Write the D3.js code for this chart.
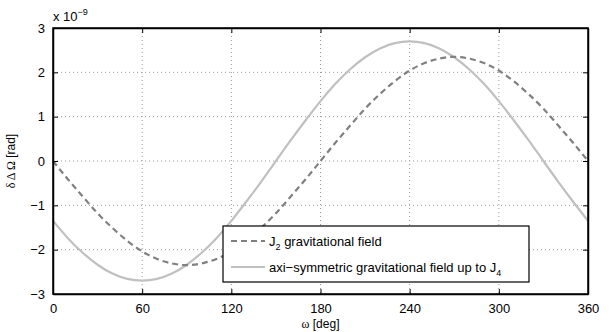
<!DOCTYPE html>
<meta charset="utf-8">
<script src="https://d3js.org/d3.v7.min.js"></script>
<style>
  body { margin: 0; background: #fff; }
  text { font-family: "Liberation Sans", Arial, sans-serif; fill: #000; }
</style>
<svg id="chart" width="613" height="332"></svg>
<script>

// data (values in units of 1e-9 rad)
var omega = [0,10,20,30,40,50,60,70,80,90,100,110,120,130,140,150,160,170,180,
             190,200,210,220,230,240,250,260,270,280,290,300,310,320,330,340,350,360];
var j2 = [0,-0.41,-0.80,-1.18,-1.51,-1.80,-2.04,-2.21,-2.31,-2.35,-2.31,-2.21,-2.04,-1.80,-1.51,-1.18,-0.80,-0.41,0,
          0.41,0.80,1.18,1.51,1.80,2.04,2.21,2.31,2.35,2.31,2.21,2.04,1.80,1.51,1.18,0.80,0.41,0];
var j4 = [-1.35,-1.74,-2.07,-2.34,-2.54,-2.66,-2.70,-2.66,-2.54,-2.34,-2.07,-1.74,-1.35,-0.92,-0.47,0,0.47,0.92,1.35,
          1.74,2.07,2.34,2.54,2.66,2.70,2.66,2.54,2.34,2.07,1.74,1.35,0.92,0.47,0,-0.47,-0.92,-1.35];
var xTicks = [0,60,120,180,240,300,360];
var yTicks = [-3,-2,-1,0,1,2,3];

var svg = d3.select("#chart");
var margin = {left: 53, right: 25, top: 28, bottom: 38};
var width = 613 - margin.left - margin.right,
    height = 332 - margin.top - margin.bottom;

var x = d3.scaleLinear().domain([0, 360]).range([0, width]);
var y = d3.scaleLinear().domain([-3, 3]).range([height, 0]);

var g = svg.append("g").attr("transform", "translate(" + margin.left + "," + margin.top + ")");

// grid
g.append("g").selectAll("line").data(xTicks.slice(1, -1)).enter().append("line")
  .attr("x1", d => x(d)).attr("x2", d => x(d)).attr("y1", 0).attr("y2", height)
  .attr("stroke", "#999").attr("stroke-width", 1).attr("stroke-dasharray", "1,3");
g.append("g").selectAll("line").data(yTicks.slice(1, -1)).enter().append("line")
  .attr("x1", 0).attr("x2", width).attr("y1", d => y(d)).attr("y2", d => y(d))
  .attr("stroke", "#999").attr("stroke-width", 1).attr("stroke-dasharray", "1,3");

// curves
var line = d3.line().x((d, i) => x(omega[i])).y(d => y(d)).curve(d3.curveNatural);

g.append("path").datum(j4)
  .attr("fill", "none").attr("stroke", "#c0c0c0").attr("stroke-width", 2.2)
  .attr("d", line);
g.append("path").datum(j2)
  .attr("fill", "none").attr("stroke", "#808080").attr("stroke-width", 2.2)
  .attr("stroke-dasharray", "6,4")
  .attr("d", line);

// axes (inner ticks, box)
var xAxis = d3.axisBottom(x).tickValues(xTicks).tickSizeInner(-5).tickSizeOuter(0).tickPadding(10);
var yAxis = d3.axisLeft(y).tickValues(yTicks).tickSizeInner(-5).tickSizeOuter(0).tickPadding(8);
var gx = g.append("g").attr("transform", "translate(0," + height + ")").call(xAxis);
var gy = g.append("g").call(yAxis);
g.append("g").call(d3.axisTop(x).tickValues(xTicks).tickSizeInner(-5).tickSizeOuter(0).tickFormat(""));
g.append("g").attr("transform", "translate(" + width + ",0)")
  .call(d3.axisRight(y).tickValues(yTicks).tickSizeInner(-5).tickSizeOuter(0).tickFormat(""));
g.selectAll(".domain").attr("stroke", "#000").attr("stroke-width", 1.5);
g.selectAll(".tick line").attr("stroke", "#000");
g.selectAll(".tick text").style("font-size", "13px").attr("fill", "#000");
gy.selectAll(".tick text").text(d => d < 0 ? "\u2212" + Math.abs(d) : d);
g.append("rect").attr("width", width).attr("height", height)
  .attr("fill", "none").attr("stroke", "#000").attr("stroke-width", 1.5);

// exponent label
var ex = g.append("text").attr("x", 0).attr("y", -7).style("font-size", "13px");
ex.append("tspan").text("x 10");
ex.append("tspan").attr("dy", -6).style("font-size", "9px").text("\u22129");

// axis labels
svg.append("text").attr("x", margin.left + x(180)).attr("y", 328)
  .attr("text-anchor", "middle").style("font-size", "12px")
  .html('<tspan style="font-family:\'Liberation Serif\',serif">\u03c9</tspan> [deg]');
svg.append("text")
  .attr("transform", "translate(15," + (margin.top + height / 2) + ") rotate(-90)")
  .attr("text-anchor", "middle").style("font-size", "12px")
  .html('<tspan style="font-family:\'Liberation Serif\',serif">\u03b4 \u0394 \u03a9</tspan> [rad]');

// legend
var lg = g.append("g").attr("transform", "translate(" + (223 - margin.left) + "," + (226 - margin.top) + ")");
lg.append("rect").attr("width", 306).attr("height", 56)
  .attr("fill", "#fff").attr("stroke", "#000").attr("stroke-width", 1.2);
var legendItems = [
  {c: "#808080", dash: "6,4", pre: "J", sub: "2", post: " gravitational field"},
  {c: "#c0c0c0", dash: null, pre: "axi\u2212symmetric gravitational field up to J", sub: "4", post: ""}
];
legendItems.forEach(function(s, i) {
  var yy = 15 + i * 26;
  lg.append("line").attr("x1", 8).attr("x2", 42).attr("y1", yy).attr("y2", yy)
    .attr("stroke", s.c).attr("stroke-width", 2.2).attr("stroke-dasharray", s.dash);
  var t = lg.append("text").attr("x", 46).attr("y", yy + 5).style("font-size", "13px");
  t.append("tspan").text(s.pre);
  t.append("tspan").attr("dy", 4).style("font-size", "9px").text(s.sub);
  if (s.post) t.append("tspan").attr("dy", -4).text(s.post);
});
</script>
